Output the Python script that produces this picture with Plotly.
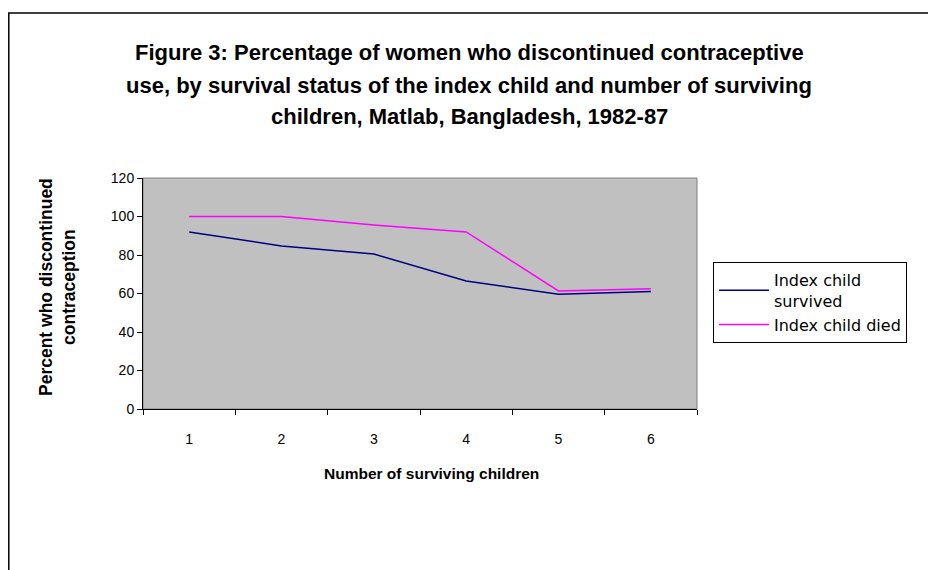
import plotly.graph_objects as go

categories = ["1", "2", "3", "4", "5", "6"]
survived = [92, 84.7, 80.5, 66.5, 59.6, 61]
died = [100, 100, 95.6, 92, 61.3, 62.5]
series_names = ["Index child<br>survived", "Index child died"]
title_lines = [
    "Figure 3: Percentage of women who discontinued contraceptive",
    "use, by survival status of the index child and number of surviving",
    "children, Matlab, Bangladesh, 1982-87",
]
y_title = "Percent who discontinued<br>contraception"
x_title = "Number of surviving children"

OFF = 8  # page body margin
W, H = 936 - OFF, 570 - OFF
# plot area in page (window) coordinates
L, R, T, B = 143, 697, 178, 409
pw, ph = R - L, B - T

def px(x):
    return (x - L) / pw

def py(y):
    return (B - y) / ph

FONT = "Liberation Sans, Arial, sans-serif"

fig = go.Figure()
fig.add_trace(go.Scatter(x=categories, y=survived, mode="lines", name=series_names[0],
                         line=dict(color="#000080", width=1.5)))
fig.add_trace(go.Scatter(x=categories, y=died, mode="lines", name=series_names[1],
                         line=dict(color="#FF00FF", width=1.5)))

annotations = []
for text, yy in zip(title_lines, [52, 85, 117]):
    annotations.append(dict(text="<b>" + text + "</b>", x=px(469), y=py(yy), xref="paper", yref="paper",
                            showarrow=False, xanchor="center", yanchor="middle",
                            font=dict(family=FONT, size=22, color="black")))
annotations.append(dict(text="<b>" + y_title + "</b>", x=px(57), y=py(287), xref="paper", yref="paper",
                        showarrow=False, xanchor="center", yanchor="middle", textangle=-90,
                        font=dict(family=FONT, size=17.5, color="black")))
annotations.append(dict(text="<b>" + x_title + "</b>", x=px(431), y=py(473), xref="paper", yref="paper",
                        showarrow=False, xanchor="center", yanchor="middle",
                        font=dict(family=FONT, size=15.5, color="black")))

shapes = [
    dict(type="rect", xref="paper", yref="paper", x0=0, x1=1, y0=0, y1=1,
         line=dict(color="#808080", width=1), layer="below"),
    dict(type="rect", xref="paper", yref="paper", x0=px(OFF + 0.8), x1=px(960), y0=py(600), y1=py(13),
         line=dict(color="black", width=1.5)),
]

fig.update_layout(
    width=W, height=H,
    margin=dict(l=L - OFF, r=W - (R - OFF), t=T - OFF, b=H - (B - OFF), autoexpand=False),
    paper_bgcolor="white", plot_bgcolor="#C0C0C0",
    font=dict(family=FONT, size=14, color="black"),
    showlegend=True,
    legend=dict(x=px(713), y=py(262), xanchor="left", yanchor="top",
                bordercolor="black", borderwidth=1, bgcolor="white",
                font=dict(family="DejaVu Sans, sans-serif", size=16), tracegroupgap=0,
                itemwidth=50),
    annotations=annotations, shapes=shapes,
)
fig.update_xaxes(type="category", range=[-0.5, 5.5], showgrid=False, showline=True,
                 linecolor="black", linewidth=1,
                 ticks="outside", tickson="boundaries", ticklen=5, tickcolor="black",
                 ticklabelstandoff=17, tickfont=dict(size=14), zeroline=False)
fig.update_yaxes(range=[0, 120], dtick=20, showgrid=False, showline=True, linecolor="black",
                 linewidth=1, ticks="outside", ticklen=5, tickcolor="black",
                 tickfont=dict(size=14), zeroline=False)

fig.write_html("out.html")
